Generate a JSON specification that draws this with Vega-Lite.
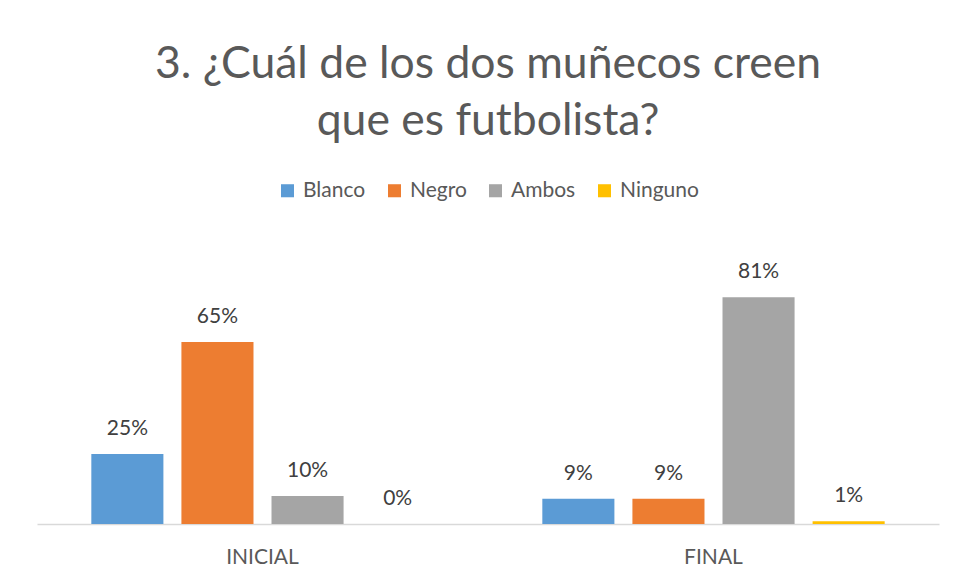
{
  "$schema": "https://vega.github.io/schema/vega-lite/v6.json",
  "width": 902,
  "height": 280,
  "autosize": "none",
  "padding": {"left": 37, "top": 244, "right": 16, "bottom": 57},
  "background": "white",
  "title": {
    "text": ["3. ¿Cuál de los dos muñecos creen", "que es futbolista?"],
    "font": "Lato",
    "fontSize": 44.5,
    "fontWeight": "normal",
    "color": "#595959",
    "lineHeight": 57,
    "anchor": "middle",
    "offset": 36
  },
  "data": {
    "values": [
      {"momento": "INICIAL", "respuesta": "Blanco", "valor": 0.25},
      {"momento": "INICIAL", "respuesta": "Negro", "valor": 0.65},
      {"momento": "INICIAL", "respuesta": "Ambos", "valor": 0.10},
      {"momento": "INICIAL", "respuesta": "Ninguno", "valor": 0.0},
      {"momento": "FINAL", "respuesta": "Blanco", "valor": 0.09},
      {"momento": "FINAL", "respuesta": "Negro", "valor": 0.09},
      {"momento": "FINAL", "respuesta": "Ambos", "valor": 0.81},
      {"momento": "FINAL", "respuesta": "Ninguno", "valor": 0.01}
    ]
  },
  "encoding": {
    "x": {
      "field": "momento",
      "type": "nominal",
      "sort": ["INICIAL", "FINAL"],
      "scale": {"paddingInner": 0, "paddingOuter": 0},
      "axis": {
        "title": null,
        "labelAngle": 0,
        "labelFont": "Lato",
        "labelFontSize": 21,
        "labelColor": "#595959",
        "labelPadding": 22,
        "ticks": false,
        "domainColor": "#d9d9d9",
        "domainWidth": 1.5
      }
    },
    "xOffset": {
      "field": "respuesta",
      "type": "nominal",
      "sort": ["Blanco", "Negro", "Ambos", "Ninguno"],
      "scale": {"paddingInner": 0.2, "paddingOuter": 0.603}
    },
    "y": {
      "field": "valor",
      "type": "quantitative",
      "scale": {"domain": [0, 1], "nice": false},
      "axis": null
    }
  },
  "layer": [
    {
      "mark": {"type": "bar"},
      "encoding": {
        "color": {
          "field": "respuesta",
          "type": "nominal",
          "sort": ["Blanco", "Negro", "Ambos", "Ninguno"],
          "scale": {
            "domain": ["Blanco", "Negro", "Ambos", "Ninguno"],
            "range": ["#5B9BD5", "#ED7D31", "#A5A5A5", "#FFC000"]
          },
          "legend": {
            "title": null,
            "orient": "top",
            "direction": "horizontal",
            "symbolType": "square",
            "symbolSize": 170,
            "symbolStrokeWidth": 0,
            "labelFont": "Lato",
            "labelFontSize": 21,
            "labelColor": "#595959",
            "labelOffset": 5,
            "columnPadding": 18,
            "offset": 43
          }
        }
      }
    },
    {
      "mark": {
        "type": "text",
        "baseline": "alphabetic",
        "dy": -19,
        "font": "Lato",
        "fontSize": 21,
        "color": "#404040"
      },
      "encoding": {
        "text": {"field": "valor", "type": "quantitative", "format": ".0%"}
      }
    }
  ],
  "config": {
    "view": {"stroke": null},
    "legend": {"layout": {"top": {"anchor": "middle"}}}
  }
}
